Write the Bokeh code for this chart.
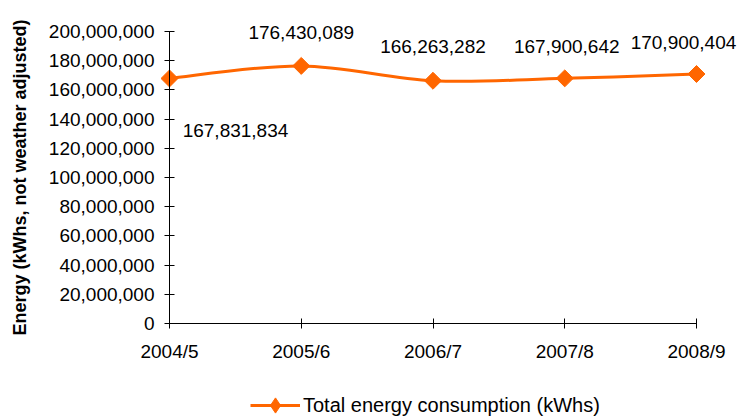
import numpy as np
from bokeh.plotting import figure
from bokeh.models import (ColumnDataSource, LabelSet, Label, Legend, LegendItem,
                          FixedTicker, NumeralTickFormatter, Range1d)
from bokeh.core.properties import value
from bokeh.embed import file_html
from bokeh.resources import INLINE

# ---- data ----
years = ["2004/5", "2005/6", "2006/7", "2007/8", "2008/9"]
energy = [167831834, 176430089, 166263282, 167900642, 170900404]
y_ticks = [0, 20000000, 40000000, 60000000, 80000000, 100000000,
           120000000, 140000000, 160000000, 180000000, 200000000]
y_max = 200000000
series_name = "Total energy consumption (kWhs)"
y_title = "Energy (kWhs, not weather adjusted)"

# ---- layout constants (screen px) ----
W, H = 737, 418
AX_LEFT, AX_RIGHT = 169, 696      # pixel x of first / last category
AX_TOP, AX_BOTTOM = 31, 323       # pixel y of y_max / 0
label_dx = [66, 0, 0, 2, -13]
label_dy = [-52, 33, 34, 32, 31]

FONT = "Liberation Sans"
ORANGE = "#FF6600"

xs = list(range(len(years)))
nx = len(years) - 1
ux = (AX_RIGHT - AX_LEFT) / nx
uy = (AX_BOTTOM - AX_TOP) / y_max

p = figure(width=W, height=H,
           x_range=Range1d(-AX_LEFT / ux, nx + (W - AX_RIGHT) / ux),
           y_range=Range1d(-(H - AX_BOTTOM) / uy, y_max + AX_TOP / uy),
           output_backend="svg", toolbar_location=None,
           min_border=0)
p.grid.visible = False
p.outline_line_color = None
p.background_fill_color = "white"

# smoothed line (Bezier segments derived from the data points)
n = len(xs)
def pt(i):
    i = max(0, min(n - 1, i))
    return xs[i], energy[i]
seg = dict(x0=[], y0=[], x1=[], y1=[], cx0=[], cy0=[], cx1=[], cy1=[])
for i in range(n - 1):
    xa, ya = pt(i); xb, yb = pt(i + 1)
    xp, yp = pt(i - 1); xn, yn = pt(i + 2)
    seg["x0"].append(xa); seg["y0"].append(ya)
    seg["x1"].append(xb); seg["y1"].append(yb)
    seg["cx0"].append(xa + (xb - xp) / 6); seg["cy0"].append(ya + (yb - yp) / 6)
    seg["cx1"].append(xb - (xn - xa) / 6); seg["cy1"].append(yb - (yn - ya) / 6)
bez = p.bezier(x0="x0", y0="y0", x1="x1", y1="y1", cx0="cx0", cy0="cy0",
               cx1="cx1", cy1="cy1", source=ColumnDataSource(seg),
               line_color=ORANGE, line_width=3)

src = ColumnDataSource(dict(x=xs, y=energy,
                            lab=[f"{v:,}" for v in energy],
                            dx=label_dx, dy=label_dy))
pts = p.scatter("x", "y", source=src, marker="square", angle=np.pi / 4,
                size=12, fill_color=ORANGE, line_color=ORANGE)

# diamond used only as the legend swatch (zero size on the plot itself)
leg_marker = p.scatter("x", "y", source=src, marker="diamond", size=0,
                       fill_color=ORANGE, line_color=ORANGE)

labels = LabelSet(x="x", y="y", text="lab", source=src,
                  x_offset="dx", y_offset="dy",
                  text_align="center", text_baseline="middle",
                  text_font=value(FONT), text_font_size="19px",
                  text_color="black")
p.add_layout(labels)

# axes
p.xaxis.ticker = FixedTicker(ticks=xs)
p.xaxis.major_label_overrides = {i: y for i, y in enumerate(years)}
p.xaxis.bounds = (0, nx)
p.xaxis.fixed_location = 0
p.yaxis.ticker = FixedTicker(ticks=y_ticks)
p.yaxis.formatter = NumeralTickFormatter(format="0,0")
p.yaxis.bounds = (0, y_max)
p.yaxis.fixed_location = 0
for ax in (p.xaxis, p.yaxis):
    ax.axis_line_color = "black"
    ax.major_tick_line_color = "black"
    ax.major_tick_in = 5
    ax.major_tick_out = 5
    ax.minor_tick_line_color = None
    ax.major_label_text_font = FONT
    ax.major_label_text_font_size = "19px"
    ax.major_label_text_color = "black"
p.xaxis.major_label_standoff = 12
p.yaxis.major_label_standoff = 10

title = Label(x=19, y=H - (AX_TOP + AX_BOTTOM) / 2, x_units="screen", y_units="screen",
              text=y_title, angle=np.pi / 2, text_align="center",
              text_baseline="middle", text_font=FONT,
              text_font_size="18px", text_font_style="bold", text_color="black")
p.add_layout(title)

legend = Legend(items=[LegendItem(label=series_name, renderers=[bez, leg_marker])],
                location=(250, -6), orientation="horizontal",
                glyph_width=50, glyph_height=38, label_standoff=3,
                padding=0, margin=0, border_line_color=None,
                background_fill_alpha=0,
                label_text_font=FONT, label_text_font_size="20px",
                label_text_color="black")
p.add_layout(legend, "center")

open("out.html", "w").write(file_html(p, INLINE))
